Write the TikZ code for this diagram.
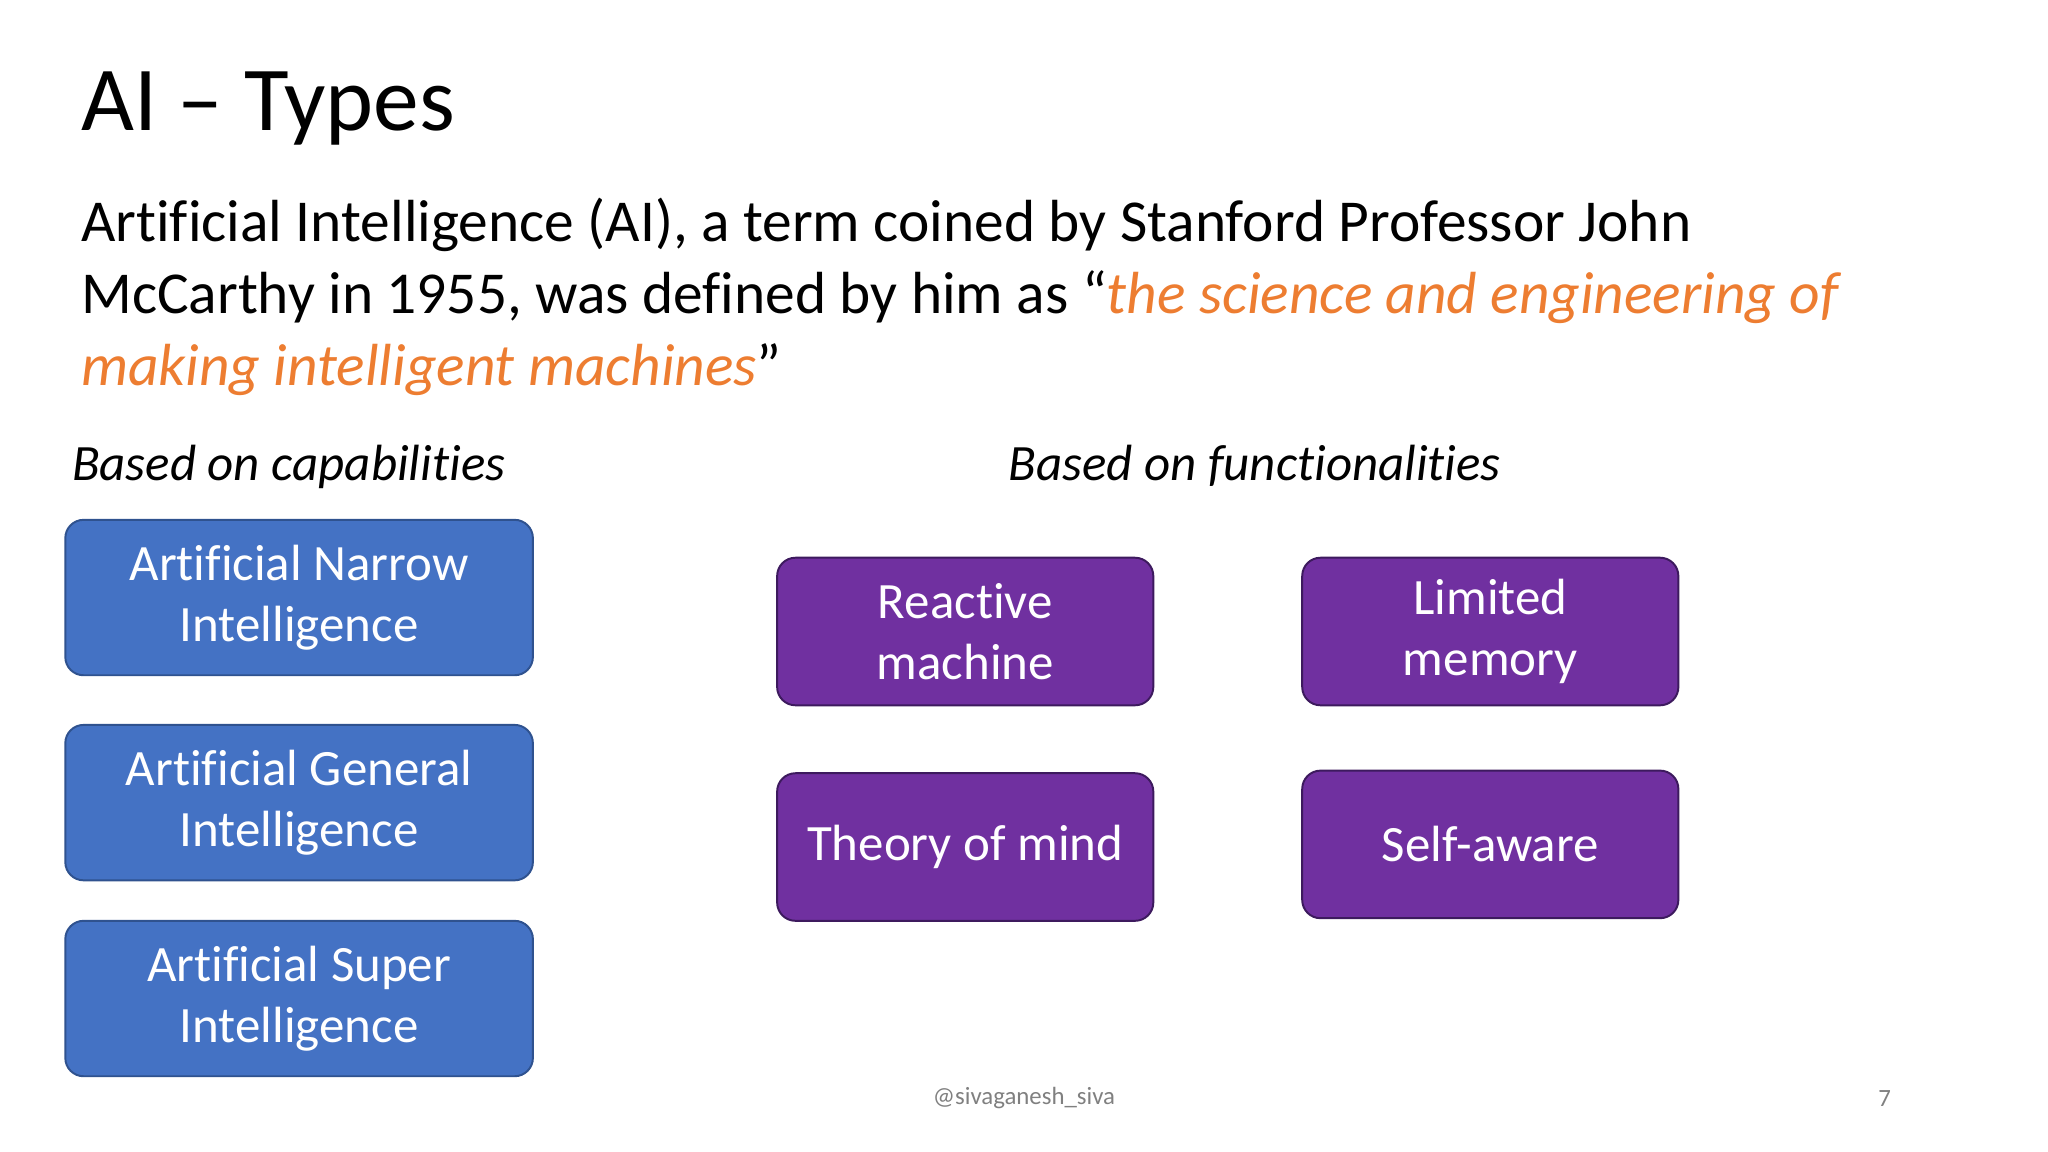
\documentclass[tikz,border=0pt]{standalone}
\usepackage{fontspec}
\setmainfont{Carlito}[Ligatures=NoCommon]
\definecolor{bluebox}{HTML}{4472C4}
\definecolor{blueedge}{HTML}{2F528F}
\definecolor{purplebox}{HTML}{7030A0}
\definecolor{purpleedge}{HTML}{3D1A5E}
\definecolor{orangetxt}{HTML}{ED7D31}
\begin{document}
\begin{tikzpicture}[x=1pt,y=-1pt,
  capbox/.style={draw=blueedge,fill=bluebox,line width=1.5pt,rounded corners=14pt,text=white,font=\fontsize{39}{47}\selectfont,align=center,minimum width=358pt,minimum height=119pt,inner sep=0},
  funcbox/.style={draw=purpleedge,fill=purplebox,line width=1.5pt,rounded corners=14pt,text=white,font=\fontsize{39}{47}\selectfont,align=center,minimum width=288pt,minimum height=113pt,inner sep=0}]
\useasboundingbox (0,0) rectangle (1568,882);
\node[anchor=base west,inner sep=0,font=\fontsize{70}{70}\selectfont] (title) at (62,100) {AI – Types};
\node[anchor=base west,inner sep=0,font=\fontsize{45.5}{55}\selectfont] (l1) at (62,185) {Artificial Intelligence (AI), a term coined by Stanford Professor John};
\node[anchor=base west,inner sep=0,font=\fontsize{45.5}{55}\selectfont] (l2) at (62,240) {McCarthy in 1955, was defined by him as “\textcolor{orangetxt}{\itshape the science and engineering of}};
\node[anchor=base west,inner sep=0,font=\fontsize{45.5}{55}\selectfont] (l3) at (62,295) {\textcolor{orangetxt}{\itshape making intelligent machines}”};
\node[anchor=base west,inner sep=0,font=\fontsize{39}{40}\selectfont\itshape] (h1) at (55,368) {Based on capabilities};
\node[anchor=base west,inner sep=0,font=\fontsize{39}{40}\selectfont\itshape] (h2) at (772,368) {Based on functionalities};
\node[capbox] (a1) at (229,457.5) {Artificial Narrow\\Intelligence};
\node[capbox] (a2) at (229,614.5) {Artificial General\\Intelligence};
\node[capbox] (a3) at (229,764.5) {Artificial Super\\Intelligence};
\node[funcbox] (f1) at (739,483.5) {Reactive\\machine};
\node[funcbox] (f2) at (1141,483.5) {Limited\\memory};
\node[funcbox] (f3) at (739,648.5) {Theory of mind};
\node[funcbox] (f4) at (1141,646.5) {Self-aware};
\node[text=gray,font=\fontsize{19}{20}\selectfont] (foot) at (784,841) {@sivaganesh\_siva};
\node[text=gray,font=\fontsize{19}{20}\selectfont] (pg) at (1443,841) {7};
\end{tikzpicture}
\end{document}
